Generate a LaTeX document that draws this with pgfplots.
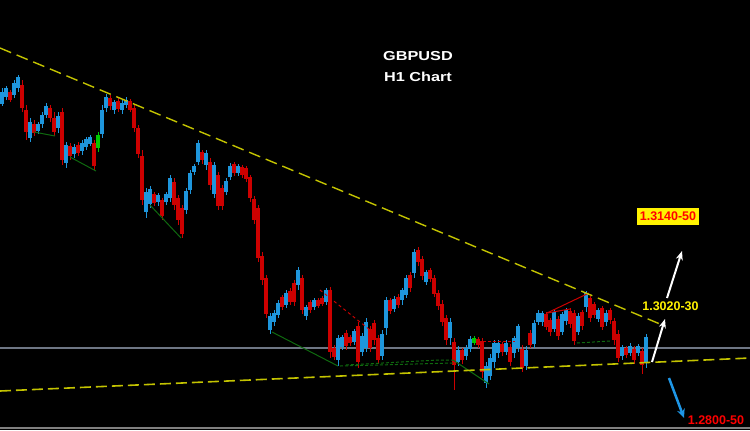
\documentclass[border=0pt]{standalone}
\usepackage{fontspec}
\setmainfont{Liberation Sans}
\usepackage{pgfplots}
\usepackage{pgfplotstable}
\pgfplotsset{compat=1.18}
\usetikzlibrary{arrows.meta}
\definecolor{cblue}{RGB}{30,150,220}
\definecolor{cred}{RGB}{205,0,0}
\definecolor{cgreen}{RGB}{0,200,0}
\definecolor{dgreen}{RGB}{15,105,15}
\definecolor{tyellow}{RGB}{195,195,0}
\definecolor{gline}{RGB}{110,118,132}
\definecolor{ablue}{RGB}{30,150,230}

% pixel coordinates: x to the right, y from the top
\pgfplotstableread{
x h l t b
2 88 106 92 104
6 86 100 88 97
14 80 98 83 95
18 75 92 77 88
30 118 142 122 138
38 122 134 124 131
42 112 128 115 124
46 103 118 106 115
58 112 133 116 128
66 142 168 145 163
74 144 158 147 154
82 140 155 143 151
86 137 150 139 147
90 135 146 137 144
102 105 138 110 134
106 94 112 97 108
114 100 114 102 110
122 100 114 103 110
126 97 108 100 105
146 188 218 192 212
150 186 208 189 204
158 193 206 195 202
166 192 205 194 202
170 175 202 178 198
186 188 214 191 210
190 170 194 173 190
194 164 175 166 172
198 140 165 143 162
206 150 170 153 165
214 162 198 165 194
226 178 195 181 192
230 163 180 166 177
238 164 176 166 173
270 313 334 316 330
274 310 326 313 322
278 300 318 303 315
286 290 308 293 305
298 267 290 270 285
306 305 320 307 316
314 298 310 300 307
326 288 305 290 302
338 335 366 338 360
342 335 350 337 347
354 329 345 331 342
362 333 356 336 352
366 318 352 322 348
382 330 360 334 356
386 297 335 300 328
394 296 312 299 309
402 288 305 290 300
406 275 298 278 295
414 249 278 252 273
426 270 285 272 282
450 318 345 322 338
458 346 366 350 362
466 345 360 348 356
470 336 352 339 349
486 362 388 366 383
490 354 380 358 376
494 340 368 343 362
498 340 358 343 353
506 340 355 343 352
514 336 358 338 353
518 324 352 326 348
526 346 370 350 366
534 320 348 323 344
538 310 325 313 322
542 311 326 313 322
554 310 332 312 329
562 312 335 314 332
566 308 325 310 321
578 313 335 316 332
586 291 312 293 307
598 308 322 310 319
606 310 326 313 322
622 345 360 347 356
630 343 356 346 353
638 344 356 346 353
646 334 368 337 362
}\bluetab

\pgfplotstableread{
x h l t b
10 90 102 92 100
22 80 112 85 108
26 105 140 110 132
34 120 136 124 133
50 105 122 108 118
54 112 136 118 132
62 108 165 112 160
70 143 160 146 156
78 142 156 145 153
94 140 170 143 166
110 95 110 98 106
118 98 112 101 109
130 99 112 101 110
134 104 132 108 128
138 125 158 128 154
142 150 205 156 200
154 192 206 194 203
162 198 220 200 216
174 178 210 182 205
178 195 225 198 220
182 205 238 208 234
202 150 164 152 160
210 158 190 162 185
218 172 210 175 206
222 185 210 188 206
234 162 176 164 173
242 165 178 167 175
246 166 182 168 179
250 175 202 177 198
254 196 224 199 220
258 205 262 208 258
262 252 285 256 280
266 275 318 278 314
282 295 310 297 307
290 288 305 291 302
294 280 306 283 302
302 275 314 278 310
310 300 313 302 310
318 298 308 300 306
322 296 306 298 304
330 287 358 290 352
334 345 360 348 357
346 330 350 333 346
350 335 346 337 343
358 322 368 326 362
370 326 352 329 348
374 320 345 323 340
378 335 364 338 360
390 298 314 300 311
398 294 308 297 305
410 272 292 275 288
418 247 266 250 262
422 256 280 259 276
430 268 282 270 279
434 275 297 278 294
438 290 310 293 306
442 300 326 304 322
446 315 345 318 340
454 338 390 342 365
462 348 364 350 360
478 337 348 339 345
482 338 378 341 372
502 342 356 344 352
510 344 366 347 362
522 345 372 349 368
530 330 348 333 345
546 312 330 314 327
550 318 336 320 332
558 316 340 319 336
570 308 328 311 324
574 310 345 313 341
582 310 330 312 326
590 296 322 298 318
594 302 318 304 315
602 306 330 308 327
610 308 324 310 320
614 318 345 321 340
618 330 362 334 358
626 346 358 348 355
634 346 364 349 360
642 348 374 351 365
}\redtab

\pgfplotstableread{
x h l t b
98 132 152 135 148
474 336 345 338 343
}\greentab

\pgfplotsset{
  wick/.style={draw=none, mark=none, forget plot, error bars/.cd, y dir=both, y explicit, error mark=none, error bar style={draw=#1, line width=1bp}},
  body/.style={draw=none, mark=none, forget plot, error bars/.cd, y dir=both, y explicit, error mark=none, error bar style={draw=#1, line width=3.1bp}},
}

\begin{document}
\begin{tikzpicture}
\begin{axis}[
  width=750bp, height=430bp, scale only axis,
  xmin=0, xmax=750, ymin=0, ymax=430, y dir=reverse,
  axis background/.style={fill=black},
  axis line style={draw=none},
  xtick=\empty, ytick=\empty,
  clip=true,
]
% horizontal grey level line
\addplot[gline, line width=2bp, forget plot] coordinates {(0,348) (750,348)};
% bottom border
\addplot[gray, line width=1.2bp, forget plot] coordinates {(0,428) (750,428)};

% candles
\addplot[wick=cblue] table[x=x, y expr=(\thisrow{h}+\thisrow{l})/2, y error expr=(\thisrow{l}-\thisrow{h})/2]{\bluetab};
\addplot[body=cblue] table[x=x, y expr=(\thisrow{t}+\thisrow{b})/2, y error expr=(\thisrow{b}-\thisrow{t})/2]{\bluetab};
\addplot[wick=cred] table[x=x, y expr=(\thisrow{h}+\thisrow{l})/2, y error expr=(\thisrow{l}-\thisrow{h})/2]{\redtab};
\addplot[body=cred] table[x=x, y expr=(\thisrow{t}+\thisrow{b})/2, y error expr=(\thisrow{b}-\thisrow{t})/2]{\redtab};
\addplot[wick=cgreen] table[x=x, y expr=(\thisrow{h}+\thisrow{l})/2, y error expr=(\thisrow{l}-\thisrow{h})/2]{\greentab};
\addplot[body=cgreen] table[x=x, y expr=(\thisrow{t}+\thisrow{b})/2, y error expr=(\thisrow{b}-\thisrow{t})/2]{\greentab};

% dark green swing lines
\addplot[dgreen, line width=1bp, forget plot] coordinates {(34,132) (55,136)};
\addplot[dgreen, line width=1bp, forget plot] coordinates {(70,157) (96,171)};
\addplot[dgreen, line width=1bp, forget plot] coordinates {(150,205) (181,238)};
\addplot[dgreen, line width=1bp, forget plot] coordinates {(272,332) (338,366)};
\addplot[dgreen, line width=1bp, forget plot] coordinates {(453,360) (489,384)};
\addplot[dgreen, line width=1bp, dash pattern=on 3bp off 2bp, forget plot] coordinates {(340,366) (453,363)};
\addplot[dgreen, line width=1bp, dash pattern=on 3bp off 2bp, forget plot] coordinates {(346,365) (438,360) (453,360)};
\addplot[dgreen, line width=1bp, dash pattern=on 3bp off 2bp, forget plot] coordinates {(577,343) (610,341)};
% red lines
\addplot[cred, line width=1bp, dash pattern=on 3bp off 3bp, forget plot] coordinates {(320,290) (370,330)};
\addplot[cred, line width=1bp, dash pattern=on 3bp off 2bp, forget plot] coordinates {(478,341) (515,341)};
\addplot[cred, line width=1bp, forget plot] coordinates {(547,313) (589,293)};
\addplot[cred, line width=1bp, forget plot] coordinates {(547,313) (570,309)};

% yellow trend lines
\addplot[tyellow, line width=1.4bp, dash pattern=on 12bp off 6bp, forget plot] coordinates {(0,48) (660,324)};
\addplot[tyellow, line width=1.6bp, dash pattern=on 11bp off 5bp, forget plot] coordinates {(0,391) (750,358)};

% arrows
\addplot[white, line width=2bp, -{Stealth[length=9bp,width=7bp]}, forget plot] coordinates {(652,362) (665,319)};
\addplot[white, line width=2bp, -{Stealth[length=9bp,width=7bp]}, forget plot] coordinates {(667,298) (682,251)};
\addplot[ablue, line width=2.5bp, -{Stealth[length=9bp,width=8bp]}, forget plot] coordinates {(669,378) (684,418)};

% texts
\node[white, font=\fontsize{13bp}{15bp}\selectfont\bfseries] at (axis cs:418,56) {\scalebox{1.25}[1]{GBPUSD}};
\node[white, font=\fontsize{13bp}{15bp}\selectfont\bfseries] at (axis cs:418,77) {\scalebox{1.25}[1]{H1 Chart}};
\node[fill=yellow, text=red, inner sep=0pt, minimum width=62bp, minimum height=17bp, font=\fontsize{12.5bp}{14bp}\selectfont\bfseries] at (axis cs:668,216.5) {1.3140-50};
\node[text=yellow, inner sep=0pt, font=\fontsize{12.5bp}{14bp}\selectfont\bfseries] at (axis cs:670.5,306) {1.3020-30};
\node[text=red, inner sep=0pt, font=\fontsize{12.5bp}{14bp}\selectfont\bfseries] at (axis cs:716,420) {1.2800-50};
\end{axis}
\end{tikzpicture}
\end{document}
